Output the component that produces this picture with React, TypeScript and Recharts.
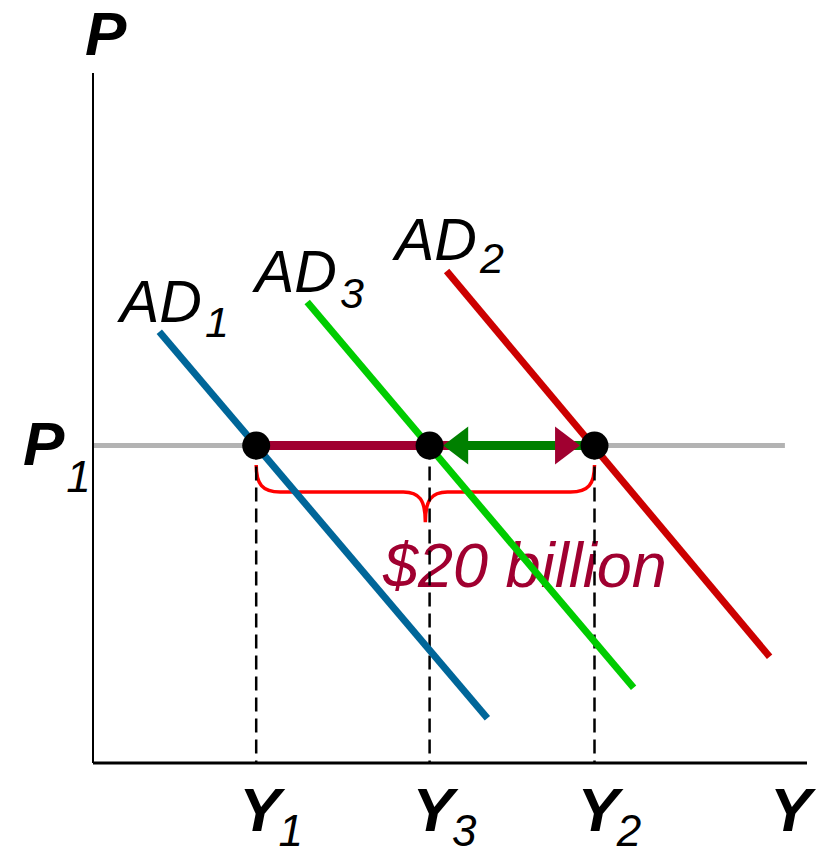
import React from 'react';
import {
  ComposedChart,
  Line,
  Scatter,
  XAxis,
  YAxis,
  ReferenceLine,
  ReferenceArea,
  Customized,
} from 'recharts';

// output in $ billions, price level as an index
const P1 = 46;
const Y1 = 9.6;
const Y3 = 19.8;
const Y2 = 29.5;

const outputTicks = [Y1, Y3, Y2];
const outputSubs = ['1', '3', '2'];

const ad1 = [
  { q: 3.9, p: 62.5 },
  { q: 23.2, p: 6.5 },
];
const ad3 = [
  { q: 12.6, p: 66.8 },
  { q: 31.8, p: 10.9 },
];
const ad2 = [
  { q: 20.8, p: 71.3 },
  { q: 39.8, p: 15.4 },
];
const priceLine = [
  { q: 0, p: P1 },
  { q: 40.7, p: P1 },
];
const shiftOut = [
  { q: Y1, p: P1 },
  { q: 27.4, p: P1 },
];
const shiftBack = [
  { q: Y2, p: P1 },
  { q: 21.8, p: P1 },
];
const arrowHeads = [
  { q: 28.65, p: P1, dir: 1, color: '#a00030' },
  { q: 20.6, p: P1, dir: -1, color: '#008000' },
];
const equilibria = [
  { q: Y1, p: P1 },
  { q: Y3, p: P1 },
  { q: Y2, p: P1 },
];
const braceTop = 43.2;
const braceTip = 34.9;

const FONT = '"Liberation Sans", Arial, sans-serif';

const OutputTick = (props: any) => {
  const { x, payload } = props;
  const i = outputTicks.indexOf(payload.value);
  return (
    <text x={x - 17} y={831} fontFamily={FONT} fontWeight="bold" fontStyle="italic" fontSize={62} fill="#000">
      Y
      <tspan fontSize={44} fontWeight="normal" dx={-2} dy={15}>
        {outputSubs[i]}
      </tspan>
    </text>
  );
};

const PriceTick = (props: any) => {
  const { y } = props;
  return (
    <text x={23} y={y + 19} fontFamily={FONT} fontWeight="bold" fontStyle="italic" fontSize={62} fill="#000">
      P
      <tspan fontSize={44} fontWeight="normal" dx={2} dy={27}>
        1
      </tspan>
    </text>
  );
};

const Dot = (props: any) => <circle cx={props.cx} cy={props.cy} r={14} fill="#000" />;

const Head = (props: any) => {
  const { cx, cy, payload } = props;
  const b = cx - payload.dir * 25;
  return <path d={`M${cx},${cy} L${b},${cy - 19} L${b},${cy + 19} Z`} fill={payload.color} />;
};

const Brace = (props: any) => {
  const { x, y, width, height } = props;
  const m = x + width / 2;
  const h = y + 27;
  const d =
    `M${x},${y} C${x},${h - 8} ${x + 6},${h} ${x + 24},${h} L${m - 22},${h} C${m - 6},${h} ${m},${h + 8} ${m},${y + height} ` +
    `M${x + width},${y} C${x + width},${h - 8} ${x + width - 6},${h} ${x + width - 24},${h} L${m + 22},${h} C${m + 6},${h} ${m},${h + 8} ${m},${y + height}`;
  return <path d={d} fill="none" stroke="#ff0000" strokeWidth={3.5} />;
};

const Labels = () => (
  <g fontFamily={FONT} fill="#000">
    <text x={85} y={55} fontWeight="bold" fontStyle="italic" fontSize={62}>
      P
    </text>
    <text x={770} y={831} fontWeight="bold" fontStyle="italic" fontSize={62}>
      Y
    </text>
    <text x={120} y={322} fontStyle="italic" fontSize={59}>
      AD
      <tspan fontSize={43} dx={3} dy={15}>1</tspan>
    </text>
    <text x={255} y={292} fontStyle="italic" fontSize={59}>
      AD
      <tspan fontSize={43} dx={3} dy={16}>3</tspan>
    </text>
    <text x={395} y={260} fontStyle="italic" fontSize={59}>
      AD
      <tspan fontSize={43} dx={3} dy={13}>2</tspan>
    </text>
    <text x={383} y={587} fontStyle="italic" fontSize={63} fill="#a00030">
      $20 billion
    </text>
  </g>
);

export default function App() {
  return (
    <div style={{ position: 'absolute', left: 0, top: 0, background: '#fff' }}>
      <ComposedChart width={816} height={849} margin={{ top: 73, right: 9, bottom: 85, left: 92 }}>
        <XAxis
          type="number"
          dataKey="q"
          domain={[0, 42]}
          ticks={outputTicks}
          interval={0}
          tick={<OutputTick />}
          tickLine={false}
          height={1}
          axisLine={{ stroke: '#000', strokeWidth: 3 }}
        />
        <YAxis
          type="number"
          dataKey="p"
          domain={[0, 100]}
          ticks={[P1]}
          interval={0}
          tick={<PriceTick />}
          tickLine={false}
          width={1}
          axisLine={{ stroke: '#000', strokeWidth: 2 }}
        />
        <Line data={priceLine} dataKey="p" stroke="#b3b3b3" strokeWidth={5} dot={false} activeDot={false} isAnimationActive={false} />
        {equilibria.map((e, i) => (
          <ReferenceLine
            key={i}
            segment={[
              { x: e.q, y: e.p },
              { x: e.q, y: 0 },
            ]}
            stroke="#000"
            strokeWidth={2.5}
            strokeDasharray="14 7"
          />
        ))}
        <Line data={ad1} dataKey="p" stroke="#006699" strokeWidth={7} dot={false} activeDot={false} isAnimationActive={false} />
        <Line data={ad3} dataKey="p" stroke="#00cc00" strokeWidth={7} dot={false} activeDot={false} isAnimationActive={false} />
        <Line data={ad2} dataKey="p" stroke="#cc0000" strokeWidth={7} dot={false} activeDot={false} isAnimationActive={false} />
        <Line data={shiftOut} dataKey="p" stroke="#a00030" strokeWidth={9} dot={false} activeDot={false} isAnimationActive={false} />
        <Line data={shiftBack} dataKey="p" stroke="#008000" strokeWidth={9} dot={false} activeDot={false} isAnimationActive={false} />
        <Scatter data={arrowHeads} dataKey="p" shape={<Head />} isAnimationActive={false} />
        <Scatter data={equilibria} dataKey="p" shape={<Dot />} isAnimationActive={false} />
        <ReferenceArea x1={Y1} x2={Y2} y1={braceTip} y2={braceTop} shape={<Brace />} />
        <Customized component={<Labels />} />
      </ComposedChart>
    </div>
  );
}
